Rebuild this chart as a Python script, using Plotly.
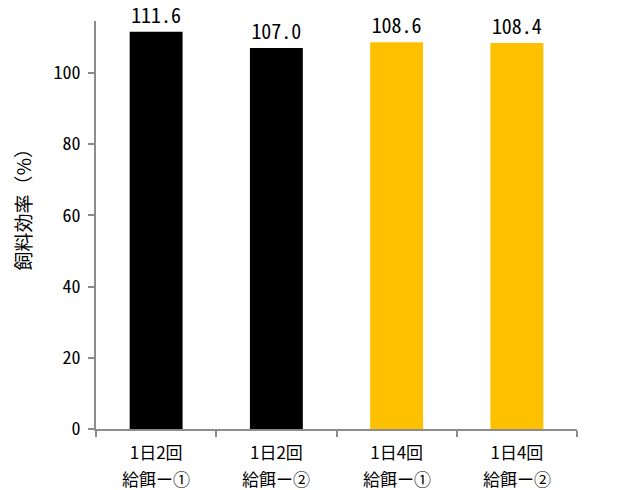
import plotly.graph_objects as go

# Feed efficiency by feeding frequency
groups = ["1日2回 給餌ー①", "1日2回 給餌ー②", "1日4回 給餌ー①", "1日4回 給餌ー②"]
tick_lines = ["1日2回", "1日2回", "1日4回", "1日4回"]
sublabels = ["給餌ー①", "給餌ー②", "給餌ー①", "給餌ー②"]
efficiency = [111.6, 107.0, 108.6, 108.4]
value_labels = ["111.6", "107.0", "108.6", "108.4"]
bar_colors = ["#000000", "#000000", "#FFC000", "#FFC000"]

y_ticks = [0, 20, 40, 60, 80, 100]
y_title = "飼料効率（%）"

mono_jp = "Noto Sans Mono CJK JP, Noto Sans CJK JP, sans-serif"
label_font = "Noto Sans CJK JP, sans-serif"
axis_gray = "#8C8C8C"

fig = go.Figure(
    go.Bar(
        x=groups,
        y=efficiency,
        marker=dict(color=bar_colors, line=dict(width=0)),
        text=value_labels,
        textposition="outside",
        textfont=dict(size=20, color="#000000", family=mono_jp),
        cliponaxis=False,
        width=0.44,
    )
)

fig.update_layout(
    width=620,
    height=490,
    margin=dict(l=96, r=43, t=21, b=61),
    paper_bgcolor="white",
    plot_bgcolor="white",
    showlegend=False,
    font=dict(family=mono_jp, size=18, color="#000000"),
)

fig.update_xaxes(
    tickmode="array",
    tickvals=groups,
    ticktext=tick_lines,
    showline=True,
    linecolor=axis_gray,
    linewidth=2,
    ticks="outside",
    tickson="boundaries",
    ticklen=6,
    tickcolor=axis_gray,
    tickwidth=1.5,
    showgrid=False,
    tickfont=dict(family=label_font, size=17),
    ticklabelstandoff=8,
    automargin=False,
)

fig.update_yaxes(
    range=[0, 114.6],
    tickvals=y_ticks,
    showline=True,
    linecolor=axis_gray,
    linewidth=2,
    ticks="outside",
    ticklen=6,
    tickcolor=axis_gray,
    tickwidth=1.5,
    showgrid=False,
    zeroline=False,
    tickfont=dict(family=mono_jp, size=18),
    ticklabelstandoff=4,
    automargin=False,
)

# Second line of each category label
for grp, sub in zip(groups, sublabels):
    fig.add_annotation(
        text=sub,
        x=grp,
        xref="x",
        y=0,
        yref="paper",
        yanchor="middle",
        yshift=-49,
        showarrow=False,
        font=dict(family=label_font, size=17, color="#000000"),
    )

# Vertical axis title, placed slightly above the plot's middle
fig.add_annotation(
    text=y_title,
    xref="paper",
    yref="paper",
    x=(23 - 96) / 481,
    y=0.55,
    xanchor="center",
    yanchor="middle",
    textangle=-90,
    showarrow=False,
    font=dict(family=label_font, size=19, color="#000000"),
)

fig.write_html("out.html")
